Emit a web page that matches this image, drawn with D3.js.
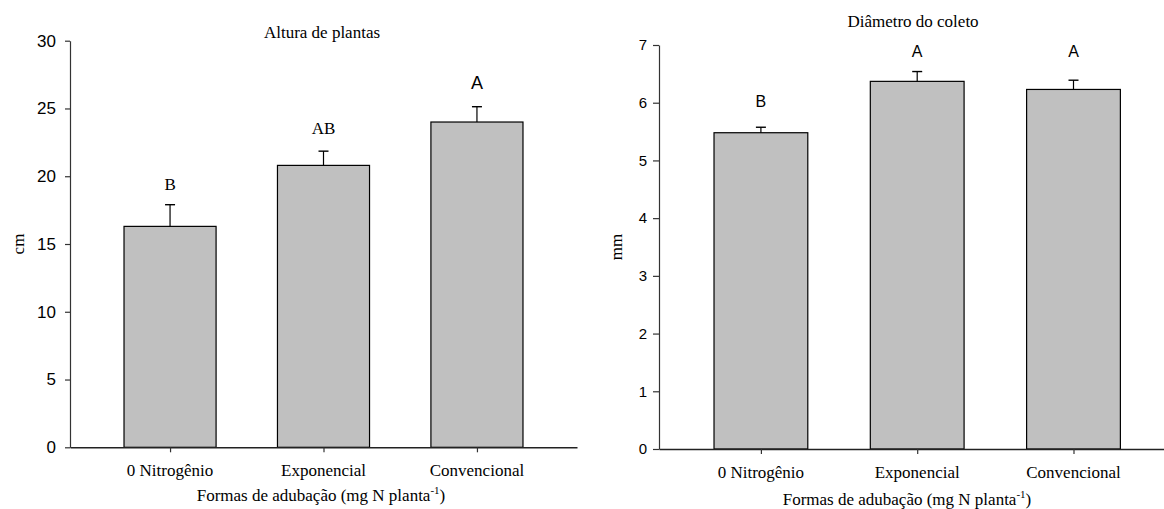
<!DOCTYPE html>
<html>
<head>
<meta charset="utf-8">
<script src="https://cdn.jsdelivr.net/npm/d3@7"></script>
<style>
  html, body { margin: 0; padding: 0; background: #fff; }
  svg { display: block; }
</style>
</head>
<body>
<svg id="chart" width="1164" height="509"></svg>
<script>
// ---- data ----
const categories = ["0 Nitrogênio", "Exponencial", "Convencional"];

const alturaMeans = [16.3, 20.8, 24.0];
const alturaSE = [1.6, 1.05, 1.13];
const alturaLetters = ["B", "AB", "A"];
const alturaLetterAt = [19.0, 23.1, 26.4];
const alturaTicks = [0, 5, 10, 15, 20, 25, 30];

const diametroMeans = [5.48, 6.37, 6.23];
const diametroSE = [0.095, 0.17, 0.16];
const diametroLetters = ["B", "A", "A"];
const diametroLetterAt = [5.92, 6.79, 6.79];
const diametroTicks = [0, 1, 2, 3, 4, 5, 6, 7];

const xTitle = "Formas de adubação (mg N planta";

// ---- layout ----
const SERIF = "'Liberation Serif', 'Times New Roman', serif";
const SANS = "'Liberation Sans', Arial, sans-serif";
const svg = d3.select("#chart");

const panels = [
  {
    title: "Altura de plantas", yLabel: "cm",
    means: alturaMeans, se: alturaSE, letters: alturaLetters, letterAt: alturaLetterAt,
    ticks: alturaTicks, yMax: 30,
    x0: 70, x1: 577, yTop: 40.7, yBot: 447.3,
    titleX: 322, titleY: 38, yLabelX: 24, xTitleX: 321, xTitleDy: 54,
    tickPad: 9, tickSize: 5, tickFont: 17,
    letterFonts: [17, 17, 18],
    letterFamilies: [SERIF, SERIF, SANS]
  },
  {
    title: "Diâmetro do coleto", yLabel: "mm",
    means: diametroMeans, se: diametroSE, letters: diametroLetters, letterAt: diametroLetterAt,
    ticks: diametroTicks, yMax: 7,
    x0: 659, x1: 1175.4, yTop: 45, yBot: 449,
    titleX: 913, titleY: 27, yLabelX: 622, xTitleX: 907, xTitleDy: 56,
    tickPad: 6, tickSize: 6, tickFont: 15,
    letterFonts: [16, 16, 16],
    letterFamilies: [SANS, SANS, SANS]
  }
];

panels.forEach(p => {
  const g = svg.append("g");
  const x = d3.scalePoint().domain(categories).range([p.x0, p.x1]).padding(0.652);
  const bw = x.step() * 0.6;
  const y = d3.scaleLinear().domain([0, p.yMax]).range([p.yBot, p.yTop]);

  // bars
  g.selectAll("rect.bar").data(categories).join("rect")
    .attr("class", "bar")
    .attr("x", (d) => x(d) - bw / 2)
    .attr("width", bw)
    .attr("y", (d, i) => y(p.means[i]))
    .attr("height", (d, i) => y(0) - y(p.means[i]))
    .attr("fill", "#c0c0c0")
    .attr("stroke", "#000")
    .attr("stroke-width", 1.2);

  // error bars (upper only)
  g.selectAll("line.err").data(categories).join("line")
    .attr("class", "err")
    .attr("x1", d => x(d)).attr("x2", d => x(d))
    .attr("y1", (d, i) => y(p.means[i]))
    .attr("y2", (d, i) => y(p.means[i] + p.se[i]))
    .attr("stroke", "#000").attr("stroke-width", 1.2);
  g.selectAll("line.cap").data(categories).join("line")
    .attr("class", "cap")
    .attr("x1", d => x(d) - 5).attr("x2", d => x(d) + 5)
    .attr("y1", (d, i) => y(p.means[i] + p.se[i]))
    .attr("y2", (d, i) => y(p.means[i] + p.se[i]))
    .attr("stroke", "#000").attr("stroke-width", 1.4);

  // letters
  g.selectAll("text.letter").data(categories).join("text")
    .attr("class", "letter")
    .attr("x", d => x(d))
    .attr("y", (d, i) => y(p.letterAt[i]))
    .attr("text-anchor", "middle")
    .style("font-family", (d, i) => p.letterFamilies[i])
    .style("font-size", (d, i) => p.letterFonts[i] + "px")
    .text((d, i) => p.letters[i]);

  // y axis
  const yAxis = g.append("g")
    .attr("transform", `translate(${p.x0},0)`)
    .call(d3.axisLeft(y).tickValues(p.ticks).tickFormat(d3.format("d"))
      .tickSize(p.tickSize).tickSizeOuter(0).tickPadding(p.tickPad));
  yAxis.selectAll("path, line").attr("stroke", "#333").attr("stroke-width", 1.2);
  yAxis.selectAll("text").style("font-family", SANS).style("font-size", p.tickFont + "px").attr("fill", "#000");

  // x axis
  const xAxis = g.append("g")
    .attr("transform", `translate(0,${y(0)})`)
    .call(d3.axisBottom(x).tickSize(5).tickSizeOuter(0).tickFormat(""));
  xAxis.select("path.domain").attr("stroke", "#222").attr("stroke-width", 1.6);
  xAxis.selectAll("line").attr("stroke", "#333").attr("stroke-width", 1.2);

  // category labels
  g.selectAll("text.cat").data(categories).join("text")
    .attr("class", "cat")
    .attr("x", d => x(d))
    .attr("y", y(0) + 29)
    .attr("text-anchor", "middle")
    .style("font-family", SERIF).style("font-size", "17px")
    .text(d => d);

  // title
  g.append("text")
    .attr("x", p.titleX).attr("y", p.titleY)
    .attr("text-anchor", "middle")
    .style("font-family", SERIF).style("font-size", "17px")
    .text(p.title);

  // x title with superscript
  const xt = g.append("text")
    .attr("x", p.xTitleX).attr("y", y(0) + p.xTitleDy)
    .attr("text-anchor", "middle")
    .style("font-family", SERIF).style("font-size", "17px");
  xt.append("tspan").text(xTitle);
  xt.append("tspan").attr("dy", -7).style("font-size", "11px").text("-1");
  xt.append("tspan").attr("dy", 7).text(")");

  // y title
  g.append("text")
    .attr("transform", `translate(${p.yLabelX},${(p.yTop + p.yBot) / 2}) rotate(-90)`)
    .attr("text-anchor", "middle")
    .style("font-family", SERIF).style("font-size", "17px")
    .text(p.yLabel);
});
</script>
</body>
</html>
